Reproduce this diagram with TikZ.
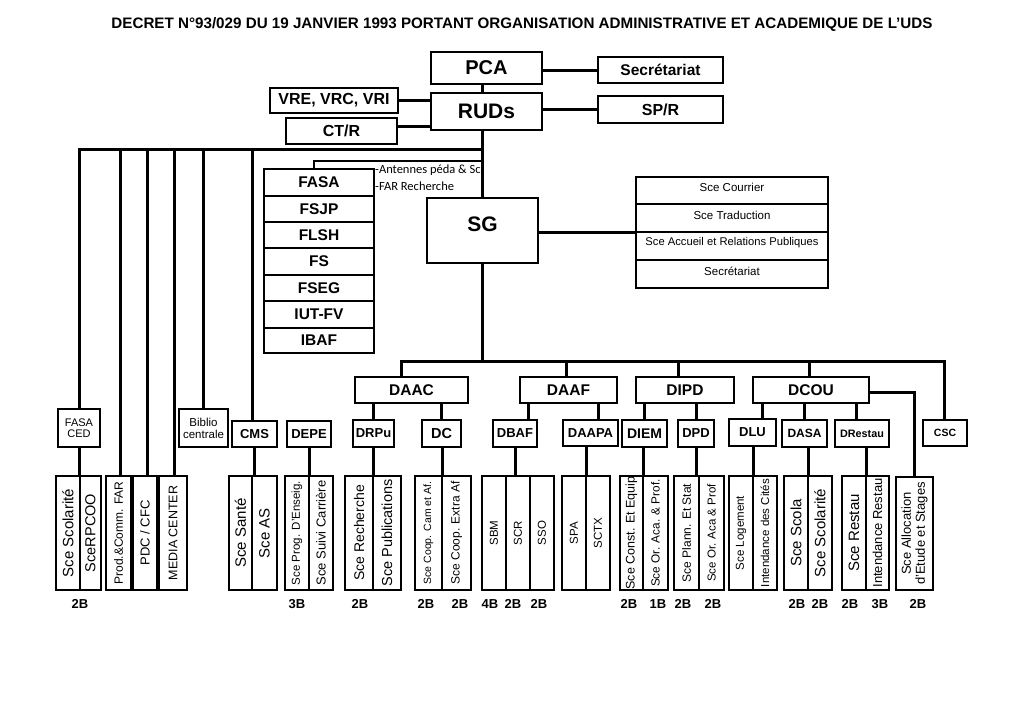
\documentclass[tikz,border=0pt]{standalone}
\usepackage{fontspec}
\usepackage{graphicx}
\setmainfont{Liberation Sans}
\newfontfamily\calfont{Carlito}
\usetikzlibrary{fit}
\newcommand\fsz[1]{\fontsize{#1}{#1}\selectfont}
\tikzset{
  box/.style={draw, line width=1.2pt, inner sep=0pt, outer sep=0pt},
  facbox/.style={box, line width=1.8pt},
  conn/.style={line width=3pt},
  thinconn/.style={line width=2pt},
  bb/.style={font=\bfseries\fsz{#1}},
  rg/.style={font=\fsz{#1}},
}
% box: [style]{name}{x1}{y1}{x2}{y2}{text}
\newcommand\bx[7][]{%
  \pgfmathsetmacro\cx{(#3+#5)/2}\pgfmathsetmacro\cy{(#4+#6)/2}%
  \pgfmathsetmacro\ww{#5-#3}\pgfmathsetmacro\hh{#6-#4}%
  \node[box,#1,minimum width=\ww pt,minimum height=\hh pt] (#2) at (\cx,\cy) {#7};}
% bottom box with rotated text: {name}{x1}{x2}{size}{text}
\newcommand\bt[5]{\bx{#1}{#2}{476}{#3}{590}{}%
  \node[rotate=90,font=\fsz{#4},inner sep=0pt,align=center] (t#1) at (#1.center) {#5};}
\begin{document}
\begin{tikzpicture}[x=1pt,y=-1pt]
\fill[white] (0,0) rectangle (1024,724);
\useasboundingbox (0,0) rectangle (1024,724);

% title
\node[inner sep=0pt, font=\bfseries\fsz{14}] (title) at (522,24) {\resizebox{821pt}{11pt}{DECRET N°93/029 DU 19 JANVIER 1993 PORTANT ORGANISATION ADMINISTRATIVE ET ACADEMIQUE DE L’UDS}};

% top
\bx[bb=20]{PCA}{431}{52}{542}{84}{PCA}
\bx[bb=15.5]{SecT}{598}{57}{723}{83}{Secrétariat}
\bx[bb=21]{RUDs}{431}{93}{542}{130}{RUDs}
\bx[bb=16]{VRE}{270}{88}{398}{113}{VRE, VRC, VRI}
\bx[bb=16]{CTR}{286}{118}{397}{144}{CT/R}
\bx[bb=16]{SPR}{598}{96}{723}{123}{SP/R}
\bx{SG}{427}{198}{538}{263}{}
\node[bb=21] (tSG) at ([yshift=6pt]SG.center) {SG};

% faculties
\bx[facbox,bb=15.5]{FASA}{264}{169}{374}{196}{FASA}
\bx[facbox,bb=15.5]{FSJP}{264}{196}{374}{222}{FSJP}
\bx[facbox,bb=15.5]{FLSH}{264}{222}{374}{248}{FLSH}
\bx[facbox,bb=15.5]{FS}{264}{248}{374}{275}{FS}
\bx[facbox,bb=15.5]{FSEG}{264}{275}{374}{301}{FSEG}
\bx[facbox,bb=15.5]{IUT}{264}{301}{374}{328}{IUT-FV}
\bx[facbox,bb=15.5]{IBAF}{264}{328}{374}{353}{IBAF}
\node[anchor=west, font=\calfont\fsz{12.5}, inner sep=0pt] (ant) at (375,170) {-Antennes péda \& Sc};
\node[anchor=west, font=\calfont\fsz{12.5}, inner sep=0pt] (far) at (375,186) {-FAR Recherche};

% right stack
\bx{Cour}{636}{177}{828}{204}{}
\bx{Trad}{636}{204}{828}{232}{}
\bx{Acc}{636}{232}{828}{260}{}
\bx{SecR}{636}{260}{828}{288}{}
\draw[line width=2.6pt] (SecR.north west) -- (SecR.north east);
\node[rg=11.5] (tCour) at ([yshift=3pt]Cour.center) {Sce Courrier};
\node[rg=11.5] (tTrad) at ([yshift=3pt]Trad.center) {Sce Traduction};
\node[rg=11.2] (tAcc) at ([yshift=3pt]Acc.center) {Sce Accueil et Relations Publiques};
\node[rg=11.5] (tSecR) at ([yshift=3pt]SecR.center) {Secrétariat};

% D level
\bx[bb=15.5]{DAAC}{355}{377}{468}{403}{DAAC}
\bx[bb=15.5]{DAAF}{520}{377}{617}{403}{DAAF}
\bx[bb=15.5]{DIPD}{636}{377}{734}{403}{DIPD}
\bx[bb=15.5]{DCOU}{753}{377}{869}{403}{DCOU}
\bx[bb=10.5]{CSC}{923}{420}{967}{446}{CSC}

% sub level
\bx[rg=11,align=center]{FASACED}{58}{409}{100}{447}{FASA\\[0.5pt]CED}
\bx[rg=11.5,align=center]{Biblio}{179}{409}{228}{447}{Biblio\\[0.5pt]centrale}
\bx[bb=13]{CMS}{232}{421}{277}{447}{CMS}
\bx[bb=13]{DEPE}{287}{421}{331}{447}{DEPE}
\bx[bb=13]{DRPu}{353}{420}{394}{447}{DRPu}
\bx[bb=14.5]{DC}{422}{420}{461}{447}{DC}
\bx[bb=13]{DBAF}{493}{420}{537}{447}{DBAF}
\bx[bb=13]{DAAPA}{563}{420}{618}{446}{DAAPA}
\bx[bb=14]{DIEM}{622}{420}{667}{447}{DIEM}
\bx[bb=13]{DPD}{678}{420}{714}{447}{DPD}
\bx[bb=13]{DLU}{729}{419}{776}{446}{DLU}
\bx[bb=12]{DASA}{782}{420}{827}{447}{DASA}
\bx[bb=10.8]{DRestau}{835}{420}{889}{447}{DRestau}

% bottom boxes
\bt{b1}{56}{80}{15}{Sce Scolarité}
\bt{b2}{80}{101}{14.5}{SceRPCOO}
\bt{b3}{106}{131}{12}{Prod.\&Comm. FAR}
\bt{b4}{133}{157}{13}{PDC / CFC}
\bt{b5}{159}{187}{12.5}{MEDIA CENTER}
\bt{b6}{229}{252}{15}{Sce Santé}
\bt{b7}{252}{277}{15}{Sce AS}
\bt{b8}{285}{309}{11.5}{Sce Prog. D’Enseig.}
\bt{b9}{309}{333}{13}{Sce Suivi Carrière}
\bt{b10}{345}{373}{14}{Sce Recherche}
\bt{b11}{373}{401}{14.5}{Sce Publications}
\bt{b12}{415}{442}{10.5}{Sce Coop. Cam et Af.}
\bt{b13}{442}{471}{12}{Sce Coop. Extra Af}
\bt{b14}{482}{506}{11.5}{SBM}
\bt{b15}{506}{530}{11.5}{SCR}
\bt{b16}{530}{554}{11.5}{SSO}
\bt{b17}{562}{586}{11.5}{SPA}
\bt{b18}{586}{610}{11.5}{SCTX}
\bt{b19}{620}{643}{12.5}{Sce Const. Et Equip}
\bt{b20}{643}{668}{11.8}{Sce Or. Aca. \& Prof.}
\bt{b21}{674}{699}{12}{Sce Plann. Et Stat}
\bt{b22}{699}{724}{11.5}{Sce Or. Aca \& Prof}
\bt{b23}{729}{753}{11.5}{Sce Logement}
\bt{b24}{753}{777}{11.5}{Intendance des Cités}
\bt{b25}{784}{808}{15}{Sce Scola}
\bt{b26}{808}{832}{15}{Sce Scolarité}
\bt{b27}{842}{866}{15}{Sce Restau}
\bt{b28}{866}{889}{13}{Intendance Restau}
\bx{b29}{896}{477}{933}{590}{}
\node[rotate=90,font=\fsz{13},inner sep=0pt,align=center] (tb29) at (b29.center) {Sce Allocation\\[1pt]d'Etude et Stages};

% bottom labels
\foreach \x/\t [count=\i] in {80/2B,297/3B,360/2B,426/2B,460/2B,490/4B,513/2B,539/2B,629/2B,658/1B,683/2B,713/2B,797/2B,820/2B,850/2B,880/3B,918/2B}
  \node[bb=13] (lab\i) at (\x,604) {\t};

% connectors top
\coordinate (mx) at (482,0);
\draw[conn] (PCA.east |- SecT.west) -- (SecT.west);
\draw[conn] (PCA.south -| mx) -- (RUDs.north -| mx);
\draw[conn] (VRE.east) -- (VRE.east -| RUDs.west);
\draw[conn] ([yshift=5pt]CTR.east) -- ([yshift=5pt]CTR.east -| RUDs.west);
\draw[conn] (RUDs.east |- SPR.west) -- (SPR.west);
\draw[conn] (RUDs.south -| mx) -- (SG.north -| mx);
\coordinate (tb) at (482,149);
\draw[conn] (FASACED.north) |- (tb);
\draw[conn] ([xshift=1.5pt]b3.north) |- (tb);
\draw[conn] ([xshift=2pt]b4.north) |- (tb);
\draw[conn] ([xshift=1pt]b5.north) |- (tb);
\draw[conn] (Biblio.north) |- (tb);
\draw[conn] ([xshift=-2pt]CMS.north) |- (tb);
\coordinate (fb) at (482,161);
\draw[thinconn] ([xshift=-5pt]FASA.north) |- (fb);
\draw[conn] (SG.east |- Acc.north west) -- (Acc.north west);

% lower bar
\coordinate (lb) at (482,361);
\coordinate (bA) at (401,361);
\coordinate (bF) at (566,361);
\coordinate (bI) at (678,361);
\coordinate (bC) at (809,361);
\coordinate (bS) at (944,361);
\draw[conn] (SG.south -| mx) -- (lb);
\draw[conn] (DAAC.north -| bA) -- (bA) -- (bS) -- (CSC.north -| bS);
\draw[conn] (bF) -- (DAAF.north -| bF);
\draw[conn] (bI) -- (DIPD.north -| bI);
\draw[conn] (bC) -- (DCOU.north -| bC);

% D -> sub
\draw[conn] (DRPu.north |- DAAC.south) -- (DRPu.north);
\draw[conn] (DC.north |- DAAC.south) -- (DC.north);
\draw[conn] ([xshift=13pt]DBAF.north |- DAAF.south) -- ([xshift=13pt]DBAF.north);
\draw[conn] ([xshift=7.5pt]DAAPA.north |- DAAF.south) -- ([xshift=7.5pt]DAAPA.north);
\draw[conn] (DIEM.north |- DIPD.south) -- (DIEM.north);
\draw[conn] (DPD.north |- DIPD.south) -- (DPD.north);
\draw[conn] ([xshift=9.5pt]DLU.north |- DCOU.south) -- ([xshift=9.5pt]DLU.north);
\draw[conn] (DASA.north |- DCOU.south) -- (DASA.north);
\draw[conn] ([xshift=-6pt]DRestau.north |- DCOU.south) -- ([xshift=-6pt]DRestau.north);
\draw[conn] ([yshift=-2pt]DCOU.east) -| (b29.north);

% sub -> bottom
\draw[conn] (FASACED.south) -- (FASACED.south |- b1.north);
\draw[conn] (CMS.south) -- (CMS.south |- b6.north);
\draw[conn] (DEPE.south -| b8.north east) -- (b8.north east);
\draw[conn] (DRPu.south -| b10.north east) -- (b10.north east);
\draw[conn] (DC.south -| b12.north east) -- (b12.north east);
\draw[conn] (DBAF.south) -- (DBAF.south |- b15.north);
\draw[conn] (DAAPA.south -| b17.north east) -- (b17.north east);
\draw[conn] (DIEM.south -| b19.north east) -- (b19.north east);
\draw[conn] (DPD.south) -- (DPD.south |- b21.north);
\draw[conn] (DLU.south -| b23.north east) -- (b23.north east);
\draw[conn] (DASA.south -| b25.north east) -- (b25.north east);
\draw[conn] (DRestau.south -| b27.north east) -- (b27.north east);
\end{tikzpicture}
\end{document}
